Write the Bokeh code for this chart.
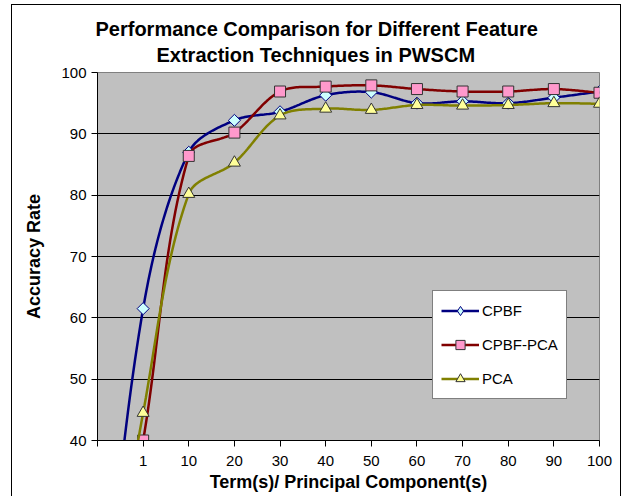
import numpy as np
from bokeh.plotting import figure
from bokeh.models import (Range1d, FixedTicker, Legend, LegendItem, Title, ColumnDataSource)
from bokeh.embed import file_html
from bokeh.resources import INLINE

# ---- data ----
categories = ["", "1", "10", "20", "30", "40", "50", "60", "70", "80", "90", "100"]
cpbf = [0, 61.5, 87.0, 92.2, 93.6, 96.3, 96.8, 95.0, 95.3, 95.0, 95.9, 96.9]
cpbf_pca = [0, 40.0, 86.4, 90.2, 96.9, 97.7, 97.9, 97.3, 96.9, 96.9, 97.3, 96.7]
pca = [0, 44.5, 80.2, 85.3, 93.0, 94.1, 93.9, 94.7, 94.6, 94.7, 95.0, 94.9]
series_names = ["CPBF", "CPBF-PCA", "PCA"]
y_ticks = [40, 50, 60, 70, 80, 90, 100]
title_lines = ["Performance Comparison for Different Feature", "Extraction Techniques in PWSCM"]

FONT = "Liberation Sans"

FRAME_W, FRAME_H = 502, 368  # plot-area size in pixels


def smooth(xs, ys, n=30):
    """Excel-like Bezier smoothing, control points weighted by segment lengths (pixel space)."""
    kx = FRAME_W / (len(categories) - 1)
    ky = FRAME_H / (y_ticks[-1] - y_ticks[0])
    P = np.column_stack([np.asarray(xs, float) * kx, np.asarray(ys, float) * ky])
    out = []
    for i in range(len(P) - 1):
        p0 = P[i - 1] if i > 0 else P[i]
        p1, p2 = P[i], P[i + 1]
        p3 = P[i + 2] if i + 2 < len(P) else P[i + 1]
        d01 = np.hypot(*(p1 - p0))
        d12 = np.hypot(*(p2 - p1))
        d23 = np.hypot(*(p3 - p2))
        c1 = p1 + (p2 - p0) * (d12 / (d01 + d12)) / 3.0
        c2 = p2 - (p3 - p1) * (d12 / (d12 + d23)) / 3.0
        t = np.linspace(0, 1, n)[:, None]
        seg = ((1 - t) ** 3) * p1 + 3 * ((1 - t) ** 2) * t * c1 + 3 * (1 - t) * t ** 2 * c2 + t ** 3 * p2
        out.append(seg if i == 0 else seg[1:])
    s = np.vstack(out)
    return s[:, 0] / kx, s[:, 1] / ky


xpos = list(range(len(categories)))

p = figure(width=610, height=492, output_backend="svg", toolbar_location=None,
           x_range=Range1d(0, len(categories) - 1), y_range=Range1d(y_ticks[0], y_ticks[-1]),
           min_border_left=85, min_border_right=23, min_border_top=67, min_border_bottom=57,
           margin=(4, 0, 0, 11),
           styles={"border-top": "1px solid black", "border-left": "1px solid black",
                   "border-right": "1px solid black"})
p.background_fill_color = "#C0C0C0"
p.border_fill_color = "white"
p.outline_line_color = "#808080"
p.outline_line_width = 1

# outer title line
p.title.text = title_lines[0]
p.title.align = "left"
p.title.offset = -2
p.title.standoff = -8.5
p.title.text_font = FONT
p.title.text_font_style = "bold"
p.title.text_font_size = "20px"
p.title.text_line_height = 1.1
p.title.text_color = "black"
# inner title line (closest to the plot area)
t2 = Title(text=title_lines[1], align="left", offset=59, standoff=13,
           text_font=FONT, text_font_style="bold", text_font_size="20px",
           text_line_height=1.1, text_color="black")
p.add_layout(t2, "above")

p.xgrid.grid_line_color = None
p.ygrid.grid_line_color = "black"
p.ygrid.grid_line_width = 1
p.ygrid.ticker = FixedTicker(ticks=y_ticks)

p.yaxis.ticker = FixedTicker(ticks=y_ticks)
p.xaxis.ticker = FixedTicker(ticks=xpos)
p.xaxis.major_label_overrides = {i: c for i, c in enumerate(categories)}
for ax in (p.xaxis, p.yaxis):
    ax.axis_line_color = "black"
    ax.major_tick_line_color = "black"
    ax.minor_tick_line_color = None
    ax.major_tick_in = 0
    ax.major_tick_out = 6
    ax.major_label_text_font = FONT
    ax.major_label_text_font_size = "15px"
    ax.major_label_text_color = "black"
    ax.axis_label_text_font = FONT
    ax.axis_label_text_font_style = "bold"
    ax.axis_label_text_font_size = "18px"
    ax.axis_label_text_color = "black"

p.xaxis.axis_label = "Term(s)/ Principal Component(s)"
p.yaxis.axis_label = "Accuracy Rate"
p.xaxis.major_label_standoff = 9
p.xaxis.axis_label_standoff = 3
p.yaxis.major_label_standoff = 5
p.yaxis.axis_label_standoff = 14

styles = [
    dict(line="#000080", marker="square", angle=np.pi / 4, size=8.5, fill="#CCFFFF", edge="#000080",
         legend_marker="diamond"),
    dict(line="#800000", marker="square", angle=0.0, size=11, fill="#FF99CC", edge="#333333",
         legend_marker="square"),
    dict(line="#808000", marker="triangle", angle=0.0, size=12, fill="#FFFF99", edge="#333333",
         legend_marker="triangle"),
]
items = []
for name, ys, st in zip(series_names, [cpbf, cpbf_pca, pca], styles):
    sx, sy = smooth(xpos, ys)
    lr = p.line(sx, sy, line_color=st["line"], line_width=2.5)
    src = ColumnDataSource(dict(x=xpos, y=ys))
    p.scatter("x", "y", source=src, marker=st["marker"], angle=st["angle"], size=st["size"],
              fill_color=st["fill"], line_color=st["edge"], line_width=1)
    # legend-only marker (legend draws markers unrotated); its single point lies outside the view
    lsrc = ColumnDataSource(dict(x=xpos[:1], y=ys[:1]))
    lm = p.scatter("x", "y", source=lsrc, marker=st["legend_marker"], size=st["size"],
                   fill_color=st["fill"], line_color=st["edge"], line_width=1)
    items.append(LegendItem(label=name, renderers=[lr, lm]))

legend = Legend(items=items, location=(335, 41), border_line_color="black", border_line_width=1,
                background_fill_color="white", background_fill_alpha=1.0,
                label_text_font=FONT, label_text_font_size="15px", label_text_color="black",
                glyph_width=38, glyph_height=23, label_height=23, spacing=11, padding=8,
                label_standoff=3, margin=0)
p.add_layout(legend, "center")

open("out.html", "w").write(file_html(p, INLINE))
